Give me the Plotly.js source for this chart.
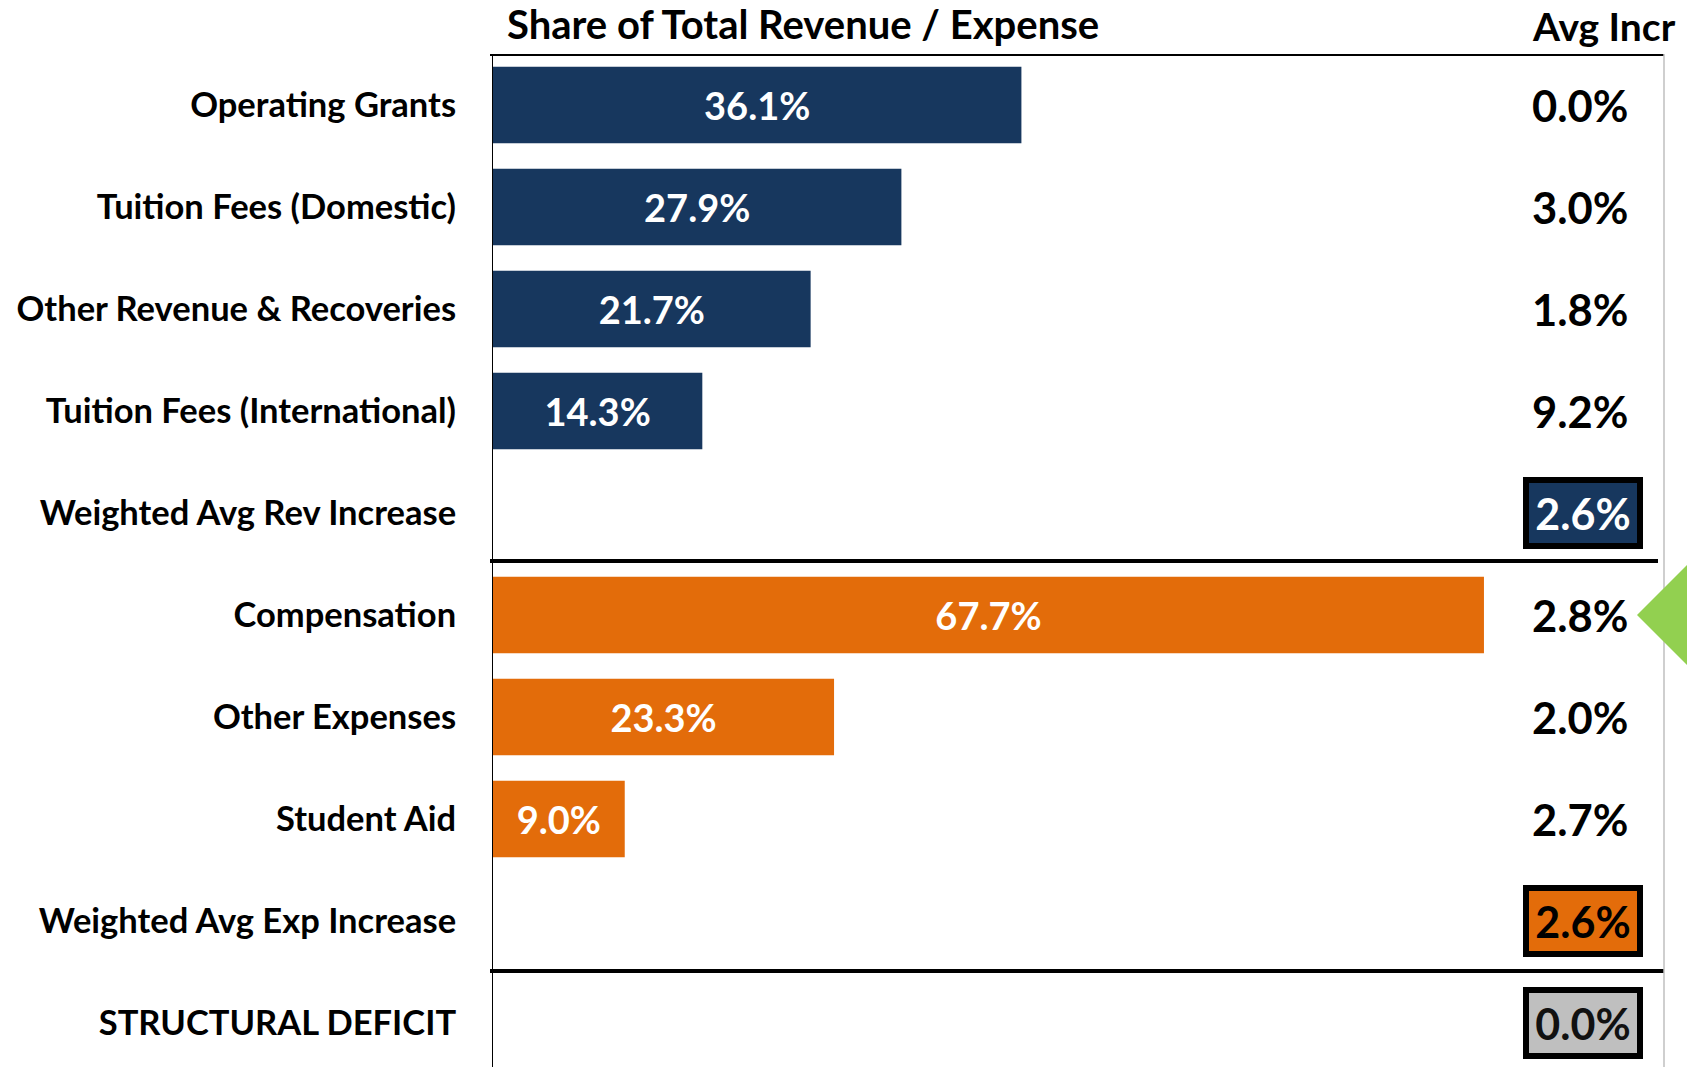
<!DOCTYPE html>
<html>
<head>
<meta charset="utf-8">
<script src="https://cdn.plot.ly/plotly-3.0.1.min.js"></script>
<style>
  html, body { margin: 0; padding: 0; background: #ffffff; }
  #chart { width: 1687px; height: 1067px; }
</style>
</head>
<body>
<div id="chart"></div>
<script>
// ---- Data ----
const categories = [
  "Operating Grants",
  "Tuition Fees (Domestic)",
  "Other Revenue & Recoveries",
  "Tuition Fees (International)",
  "Weighted Avg Rev Increase",
  "Compensation",
  "Other Expenses",
  "Student Aid",
  "Weighted Avg Exp Increase",
  "STRUCTURAL DEFICIT"
];
const shareOfTotal = [36.1, 27.9, 21.7, 14.3, null, 67.7, 23.3, 9.0, null, null];
const avgIncrease  = [0.0, 3.0, 1.8, 9.2, 2.6, 2.8, 2.0, 2.7, 2.6, 0.0];
const rowGroup     = ["rev", "rev", "rev", "rev", "revTotal", "exp", "exp", "exp", "expTotal", "deficit"];
const titleText = "Share of Total Revenue / Expense";
const avgHeader = "Avg Incr";

// ---- Styles ----
const NAVY = "rgb(23,55,94)";
const ORANGE = "rgb(227,108,10)";
const GREY = "rgb(191,191,191)";
const GREEN = "rgb(146,208,80)";
const FONT = "Lato, 'Open Sans', sans-serif";

const barColor = {rev: NAVY, exp: ORANGE, revTotal: NAVY, expTotal: ORANGE, deficit: GREY};
const boxStyle = {
  revTotal: {bg: NAVY, fc: "#ffffff"},
  expTotal: {bg: ORANGE, fc: "#000000"},
  deficit:  {bg: GREY, fc: "#111111"}
};

const trace = {
  type: "bar",
  orientation: "h",
  y: categories,
  x: shareOfTotal,
  width: 0.75,
  marker: {color: rowGroup.map(g => barColor[g])},
  texttemplate: "%{x:.1f}%",
  textposition: "inside",
  insidetextanchor: "middle",
  constraintext: "none",
  textangle: 0,
  textfont: {family: FONT, size: 38, color: "#ffffff", weight: "bold"},
  hoverinfo: "y+x",
  cliponaxis: false
};

const annotations = [];
categories.forEach((c, i) => {
  const g = rowGroup[i];
  const txt = avgIncrease[i].toFixed(1) + "%";
  if (boxStyle[g]) {
    annotations.push({
      xref: "paper", yref: "y", x: (1583 - 493) / 1171, y: c,
      text: txt, showarrow: false, xanchor: "center", yanchor: "middle",
      font: {family: FONT, size: 43, color: boxStyle[g].fc, weight: "bold"},
      bgcolor: boxStyle[g].bg, bordercolor: "#000000", borderwidth: 6, borderpad: 0,
      width: 108, height: 60
    });
  } else {
    annotations.push({
      xref: "paper", yref: "y", x: (1580 - 493) / 1171, y: c,
      text: txt, showarrow: false, xanchor: "center", yanchor: "middle",
      font: {family: FONT, size: 43.5, color: "#000000", weight: "bold"}
    });
  }
});
annotations.push({
  xref: "paper", yref: "paper", x: (1678 - 493) / 1171, y: (1067 - 26) / 1013,
  text: avgHeader, showarrow: false, xanchor: "right", yanchor: "middle",
  font: {family: FONT, size: 39, color: "#000000", weight: "bold"}
});

const pxX = px => (px - 493) / 1171;
const shapes = [
  {type: "line", xref: "paper", yref: "y", x0: pxX(490), x1: pxX(1664), y0: -0.5, y1: -0.5, line: {color: "#000000", width: 4}},
  {type: "line", xref: "paper", yref: "y", x0: pxX(490), x1: pxX(1658), y0: 4.47, y1: 4.47, line: {color: "#000000", width: 4}},
  {type: "line", xref: "paper", yref: "y", x0: pxX(490), x1: pxX(1664), y0: 8.49, y1: 8.49, line: {color: "#000000", width: 4}},
  {type: "line", xref: "paper", yref: "paper", x0: 1, x1: 1, y0: 0, y1: 1, line: {color: "#BFBFBF", width: 1.5}},
  {type: "path", xref: "paper", yref: "y",
   path: `M ${pxX(1637)} 5 L ${pxX(1710)} ${5 - 73/102} L ${pxX(1710)} ${5 + 73/102} Z`,
   fillcolor: GREEN, line: {width: 0}}
];

const layout = {
  width: 1687, height: 1067,
  margin: {l: 493, r: 23, t: 54, b: 0, pad: 0},
  paper_bgcolor: "#ffffff", plot_bgcolor: "#ffffff",
  showlegend: false,
  title: {
    text: titleText, x: 507 / 1687, xanchor: "left", xref: "container",
    y: 1 - 25 / 1067, yanchor: "middle", yref: "container",
    font: {family: FONT, size: 40, color: "#000000", weight: "bold"}
  },
  xaxis: {range: [0, 80], visible: false, fixedrange: true},
  yaxis: {
    type: "category", categoryorder: "array", categoryarray: categories,
    range: [-0.5 + 1013 / 102, -0.5],
    showline: true, linecolor: "#000000", linewidth: 1,
    showgrid: false, zeroline: false, ticks: "",
    ticklabelstandoff: 29,
    tickfont: {family: FONT, size: 34.5, color: "#000000", weight: "bold"},
    fixedrange: true
  },
  annotations: annotations,
  shapes: shapes
};

Plotly.newPlot("chart", [trace], layout, {displayModeBar: false, staticPlot: true});
</script>
</body>
</html>
